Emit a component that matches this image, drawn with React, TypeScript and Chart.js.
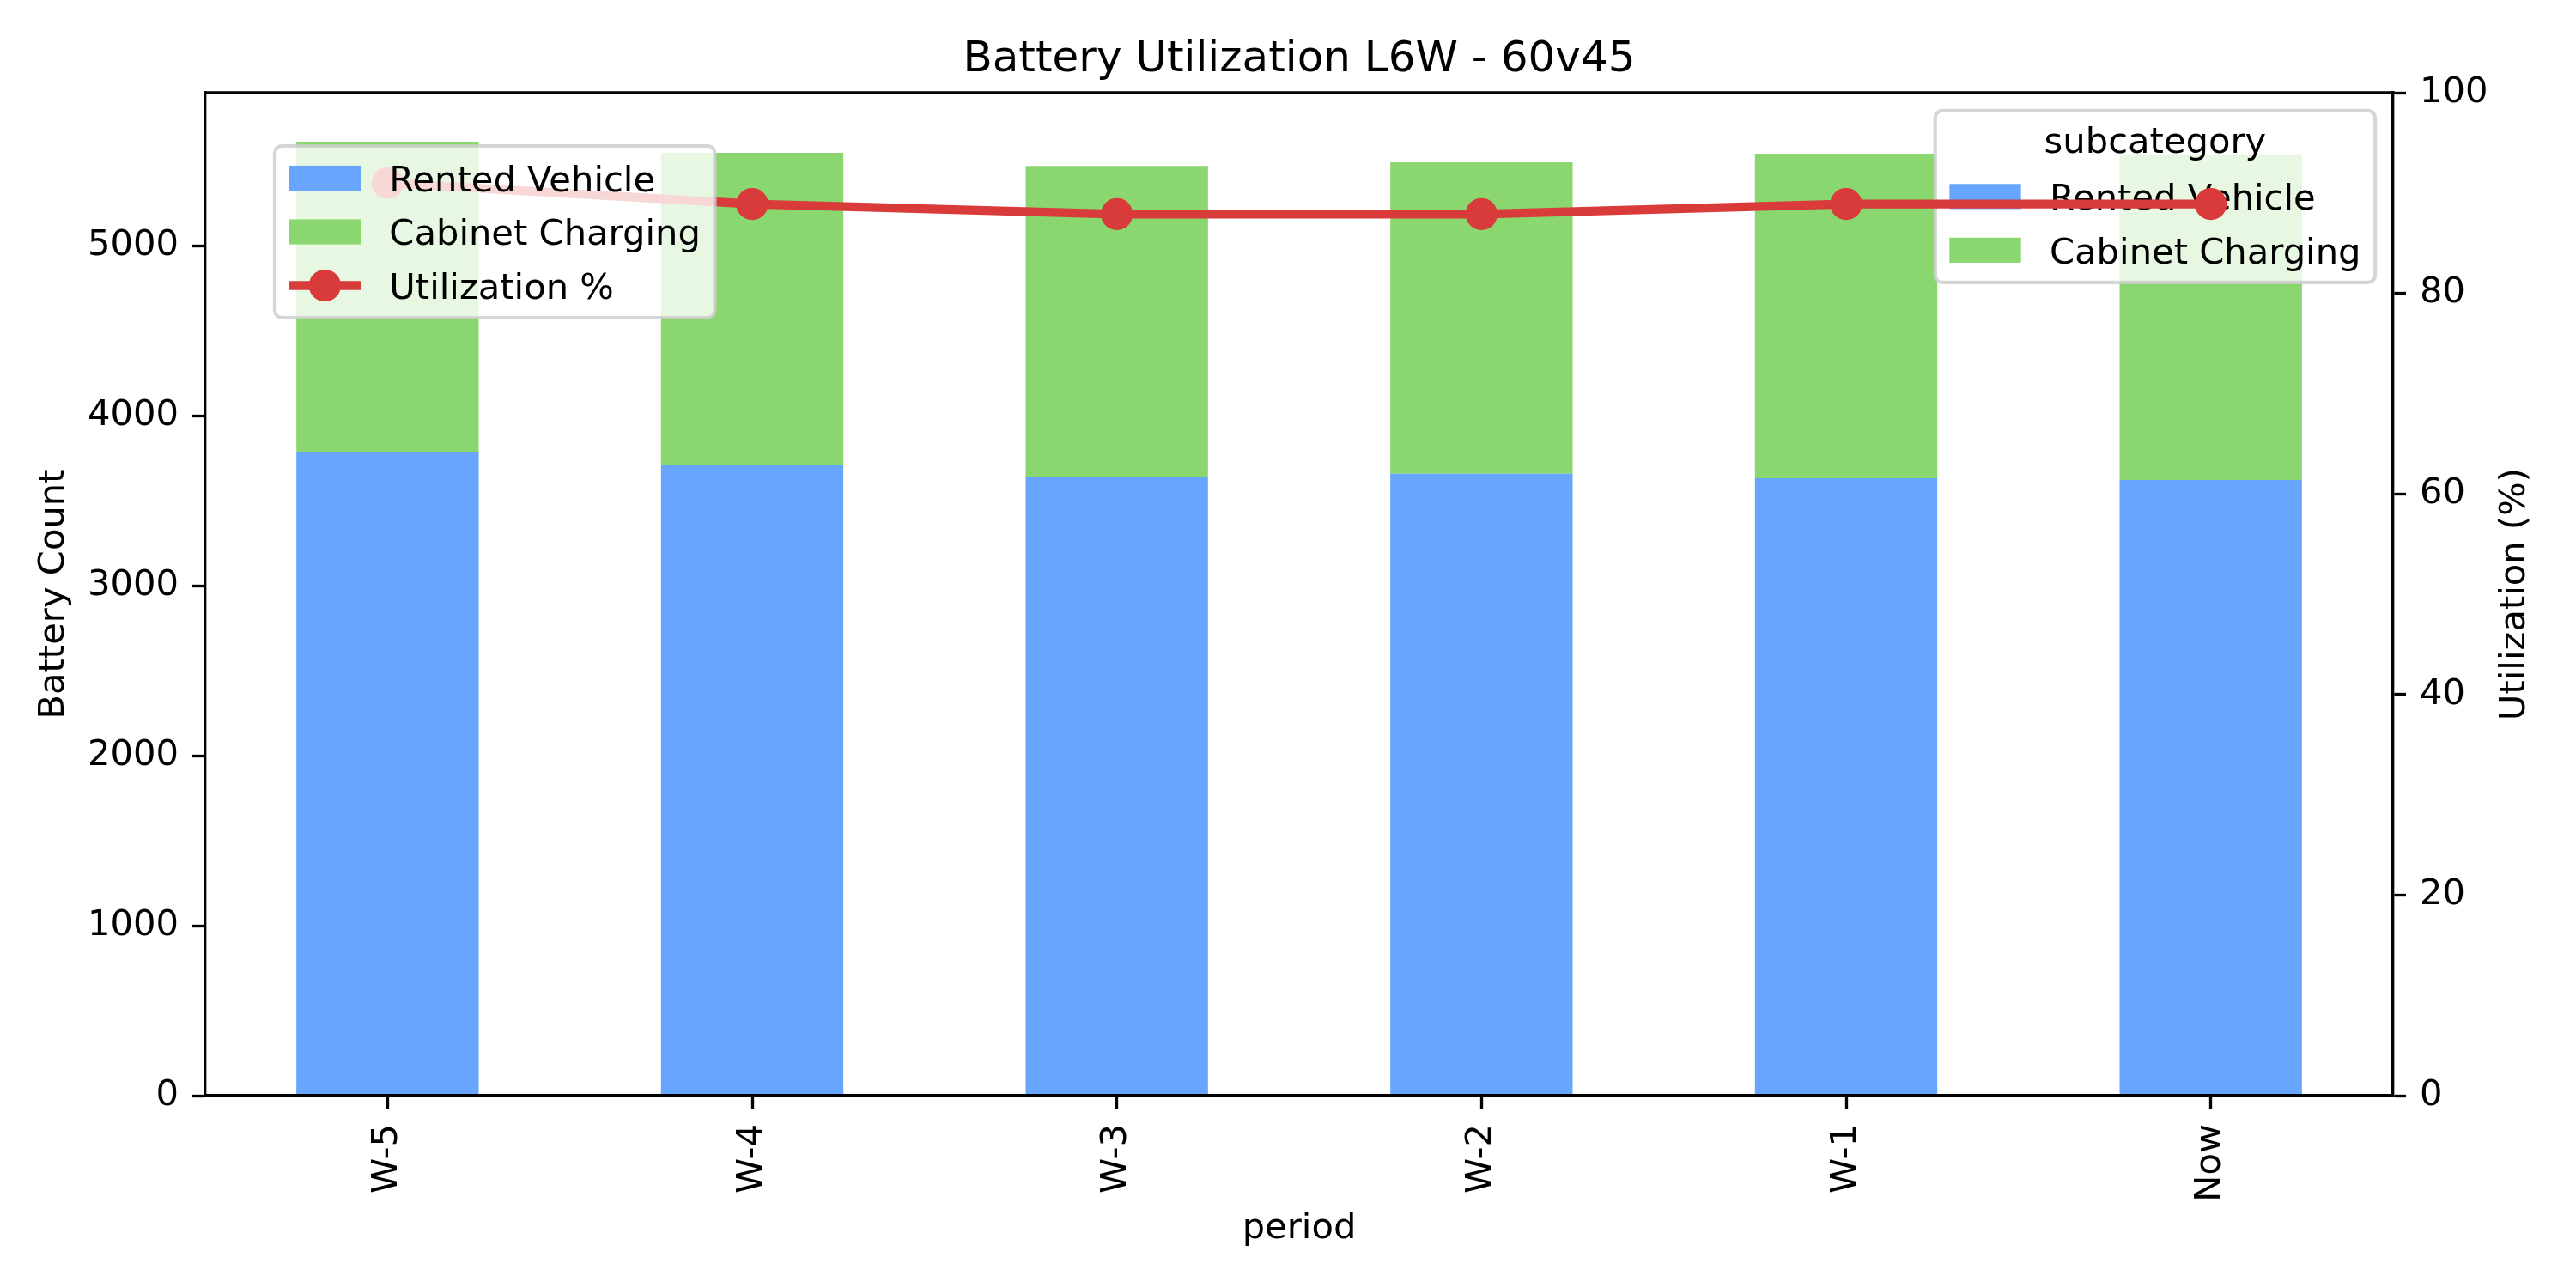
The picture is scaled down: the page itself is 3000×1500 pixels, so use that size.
import { useEffect, useRef } from "react";
import { Chart, registerables } from "chart.js";

Chart.register(...registerables);

const periods = ["W-5", "W-4", "W-3", "W-2", "W-1", "Now"];
const rentedVehicle = [3789, 3708, 3642, 3659, 3632, 3622];
const cabinetCharging = [1823, 1838, 1828, 1832, 1909, 1915];
const utilizationPct = [91.0, 88.9, 87.9, 87.9, 88.9, 88.9];

const countTicks = [0, 1000, 2000, 3000, 4000, 5000];
const pctTicks = [0, 20, 40, 60, 80, 100];
const countMax = 5900;

const FONT = "DejaVu Sans";
const FS = 41.67; // 10pt @ 300dpi
const BLUE = "#67A5FF";
const GREEN = "#89D76E";
const RED = "#D93A3A";
const SPINE = 3.33;

type LegendItem = { label: string; kind: "rect" | "line"; color: string };

// matplotlib-like legend box
function drawLegend(
    ctx: CanvasRenderingContext2D,
    x: number,
    y: number,
    title: string | null,
    items: LegendItem[],
    alignRight: boolean
) {
    const bp = 0.4 * FS;
    const ls = 0.5 * FS;
    const hl = 2.0 * FS;
    const hh = 0.7 * FS;
    const htp = 0.8 * FS;

    ctx.save();
    ctx.font = `${FS}px "${FONT}"`;
    let maxW = 0;
    items.forEach((it) => (maxW = Math.max(maxW, ctx.measureText(it.label).width)));
    let width = 2 * bp + hl + htp + maxW;
    if (title) width = Math.max(width, 2 * bp + ctx.measureText(title).width);
    const rows = items.length + (title ? 1 : 0);
    const height = 2 * bp + rows * FS + (rows - 1) * ls;
    const left = alignRight ? x - width : x;

    ctx.beginPath();
    ctx.roundRect(left, y, width, height, 0.2 * FS);
    ctx.fillStyle = "rgba(255,255,255,0.8)";
    ctx.fill();
    ctx.lineWidth = 4.17;
    ctx.strokeStyle = "rgba(204,204,204,0.8)";
    ctx.stroke();

    ctx.fillStyle = "#000";
    ctx.textBaseline = "alphabetic";
    let cy = y + bp + FS / 2;
    if (title) {
        ctx.textAlign = "center";
        ctx.fillText(title, left + width / 2, cy + 0.28 * FS);
        cy += FS + ls;
    }
    const hx = left + bp;
    items.forEach((it) => {
        if (it.kind === "rect") {
            ctx.fillStyle = it.color;
            ctx.fillRect(hx, cy - hh / 2, hl, hh);
        } else {
            ctx.strokeStyle = it.color;
            ctx.lineWidth = 10.4;
            ctx.beginPath();
            ctx.moveTo(hx, cy);
            ctx.lineTo(hx + hl, cy);
            ctx.stroke();
            ctx.beginPath();
            ctx.arc(hx + hl / 2, cy, 16.5, 0, Math.PI * 2);
            ctx.fillStyle = it.color;
            ctx.fill();
            ctx.lineWidth = 4.17;
            ctx.stroke();
        }
        ctx.fillStyle = "#000";
        ctx.textAlign = "left";
        ctx.fillText(it.label, hx + hl + htp, cy + 0.365 * FS);
        cy += FS + ls;
    });
    ctx.restore();
}

const extrasPlugin = {
    id: "extras",
    beforeDatasetDraw(chart: any, args: any) {
        // legend of the bar axes sits below the twin-axis line
        if (args.index !== 2) return;
        const { ctx, chartArea } = chart;
        drawLegend(
            ctx,
            chartArea.right - 0.5 * FS,
            chartArea.top + 0.5 * FS,
            "subcategory",
            [
                { label: "Rented Vehicle", kind: "rect", color: BLUE },
                { label: "Cabinet Charging", kind: "rect", color: GREEN },
            ],
            true
        );
    },
    afterDatasetsDraw(chart: any) {
        const { ctx, chartArea } = chart;
        // top spine
        ctx.save();
        ctx.strokeStyle = "#000";
        ctx.lineWidth = SPINE;
        ctx.beginPath();
        ctx.moveTo(chartArea.left - SPINE / 2, chartArea.top);
        ctx.lineTo(chartArea.right + SPINE / 2, chartArea.top);
        ctx.stroke();

        // right axis title, reads bottom to top like matplotlib
        ctx.translate(2929, (chartArea.top + chartArea.bottom) / 2);
        ctx.rotate(-Math.PI / 2);
        ctx.font = `${FS}px "${FONT}"`;
        ctx.fillStyle = "#000";
        ctx.textAlign = "center";
        ctx.textBaseline = "middle";
        ctx.fillText("Utilization (%)", 0, 0);
        ctx.restore();

        drawLegend(
            ctx,
            chartArea.left + 81,
            chartArea.top + 62,
            null,
            [
                { label: "Rented Vehicle", kind: "rect", color: BLUE },
                { label: "Cabinet Charging", kind: "rect", color: GREEN },
                { label: "Utilization %", kind: "line", color: RED },
            ],
            false
        );
    },
};

const tickFont = { family: FONT, size: FS };

const axisCommon = {
    border: { display: true, color: "#000", width: SPINE, z: 1 },
    grid: {
        display: true,
        drawOnChartArea: false,
        drawTicks: true,
        tickLength: 15,
        tickWidth: SPINE,
        tickColor: "#000",
        z: 1,
    },
};

const plainTick = (v: any) => String(v);

export default function App() {
    const chartRef = useRef<HTMLCanvasElement>(null);
    const chartInstance = useRef<Chart | null>(null);

    useEffect(() => {
        document.body.style.margin = "0";
        if (!chartRef.current) return;

        const config = {
            type: "bar",
            data: {
                labels: periods,
                datasets: [
                    {
                        label: "Rented Vehicle",
                        data: rentedVehicle,
                        backgroundColor: BLUE,
                        borderWidth: 0,
                        yAxisID: "y",
                        stack: "batt",
                        order: 1,
                        categoryPercentage: 1.0,
                        barPercentage: 0.5,
                    },
                    {
                        label: "Cabinet Charging",
                        data: cabinetCharging,
                        backgroundColor: GREEN,
                        borderWidth: 0,
                        yAxisID: "y",
                        stack: "batt",
                        order: 1,
                        categoryPercentage: 1.0,
                        barPercentage: 0.5,
                    },
                    {
                        type: "line",
                        label: "Utilization %",
                        data: utilizationPct,
                        yAxisID: "y1",
                        borderColor: RED,
                        backgroundColor: RED,
                        borderWidth: 10.4,
                        pointRadius: 16.5,
                        pointBorderWidth: 4.17,
                        pointBackgroundColor: RED,
                        pointBorderColor: RED,
                        tension: 0,
                        order: 0,
                        clip: false,
                    },
                ],
            },
            options: {
                responsive: false,
                devicePixelRatio: 1,
                animation: false,
                layout: { padding: 0 },
                plugins: {
                    legend: { display: false },
                    tooltip: { enabled: false },
                    title: {
                        display: true,
                        fullSize: false,
                        text: "Battery Utilization L6W - 60v45",
                        color: "#000",
                        font: { family: FONT, size: 50, weight: "normal" },
                        padding: { top: 40, bottom: 8 },
                    },
                },
                scales: {
                    x: {
                        ...axisCommon,
                        stacked: true,
                        offset: true,
                        grid: { ...axisCommon.grid, offset: false },
                        ticks: {
                            color: "#000",
                            font: tickFont,
                            minRotation: 90,
                            maxRotation: 90,
                            padding: 18,
                            autoSkip: false,
                        },
                        title: {
                            display: true,
                            text: "period",
                            color: "#000",
                            font: tickFont,
                            padding: { top: 0, bottom: 44 },
                        },
                        afterFit: (s: any) => {
                            s.height = 224;
                        },
                    },
                    y: {
                        ...axisCommon,
                        position: "left",
                        stacked: true,
                        min: 0,
                        max: countMax,
                        ticks: { color: "#000", font: tickFont, padding: 16, callback: plainTick },
                        afterBuildTicks: (s: any) => {
                            s.ticks = countTicks.map((v) => ({ value: v }));
                        },
                        title: {
                            display: true,
                            text: "Battery Count",
                            color: "#000",
                            font: tickFont,
                            padding: { top: 38, bottom: 0 },
                        },
                        afterFit: (s: any) => {
                            s.width = 239;
                        },
                    },
                    y1: {
                        ...axisCommon,
                        position: "right",
                        min: 0,
                        max: 100,
                        ticks: { color: "#000", font: tickFont, padding: 16, callback: plainTick },
                        afterBuildTicks: (s: any) => {
                            s.ticks = pctTicks.map((v) => ({ value: v }));
                        },
                        afterFit: (s: any) => {
                            s.width = 213;
                        },
                    },
                },
            },
            plugins: [extrasPlugin],
        };

        if (chartInstance.current) chartInstance.current.destroy();
        const ctx = chartRef.current.getContext("2d");
        if (ctx) chartInstance.current = new Chart(ctx, config as any);

        return () => {
            if (chartInstance.current) {
                chartInstance.current.destroy();
                chartInstance.current = null;
            }
        };
    }, []);

    return (
        <div style={{ width: 3000, height: 1500, background: "#fff" }}>
            <canvas ref={chartRef} width={3000} height={1500} style={{ display: "block" }} />
        </div>
    );
}
